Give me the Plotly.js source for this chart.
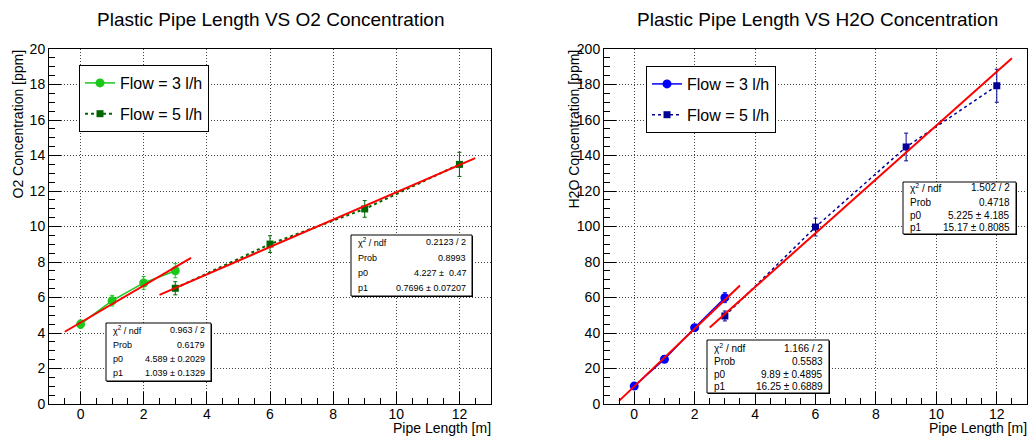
<!DOCTYPE html>
<html>
<head>
<meta charset="utf-8">
<script src="https://cdn.plot.ly/plotly-3.0.1.min.js"></script>
<style>html,body{margin:0;padding:0;background:#fff;}#chart{width:1030px;height:437px;}</style>
</head>
<body>
<div id="chart"></div>
<script>
// ---- data ----
const pipeLenFlow3 = [0, 1, 2, 3];
const pipeLenFlow5 = [3, 6, 9, 12];

const o2Flow3 = [4.5, 5.82, 6.82, 7.51];
const o2Flow3Err = [0.23, 0.3, 0.36, 0.4];
const o2Flow5 = [6.52, 9.01, 10.99, 13.5];
const o2Flow5Err = [0.37, 0.47, 0.47, 0.68];

const h2oFlow3 = [10.1, 25.2, 43, 59.9];
const h2oFlow3Err = [1.2, 1.5, 1.7, 2.8];
const h2oFlow5 = [49.6, 99.7, 144.8, 179.3];
const h2oFlow5Err = [2.8, 5, 7.8, 9.3];

// fit line end points (from the fit parameters in the stat boxes)
const fitXFlow3 = [-0.5, 3.5];
const fitXFlow5 = [2.5, 12.5];
const o2FitFlow3 = [4.07, 8.23];
const o2FitFlow5 = [6.15, 13.85];
const h2oFitFlow3 = [1.77, 66.8];
const h2oFitFlow5 = [43.15, 194.8];

const legendNames = ['Flow = 3 l/h', 'Flow = 5 l/h'];
const statLabels = ['χ<sup>2</sup> / ndf', 'Prob', 'p0', 'p1'];
const o2StatsFlow3 = ['0.963 / 2', '0.6179', '4.589 ± 0.2029', '1.039 ± 0.1329'];
const o2StatsFlow5 = ['0.2123 / 2', '0.8993', '4.227 ±\u00a0 0.47', '0.7696 ± 0.07207'];
const h2oStatsFlow3 = ['1.166 / 2', '0.5583', '9.89 ± 0.4895', '16.25 ± 0.6889'];
const h2oStatsFlow5 = ['1.502 / 2', '0.4718', '5.225 ± 4.185', '15.17 ± 0.8085'];

// ---- styling ----
const W = 1030, H = 437;
const px = v => v / W;
const py = v => 1 - v / H;
const FONT = 'Liberation Sans, Arial, Helvetica, sans-serif';

const cG3 = '#19c819', cG5 = '#006600', cB3 = '#0000ff', cB5 = '#000099', cFit = '#ff0000';

function dataTrace(x, y, err, color, symbol, dash, lw, name, xa, ya, leg, grp) {
  return {
    x: x, y: y, type: 'scatter', mode: 'lines+markers', name: name,
    xaxis: xa, yaxis: ya, legend: leg, legendgroup: grp,
    line: {color: color, width: lw, dash: dash},
    marker: {color: color, symbol: symbol, size: symbol === 'circle' ? 9 : 7},
    error_y: {type: 'data', array: err, color: color, thickness: 1, width: 2}
  };
}
function fitTrace(x, y, xa, ya) {
  return {x: x, y: y, type: 'scatter', mode: 'lines', xaxis: xa, yaxis: ya,
    line: {color: cFit, width: 2}, showlegend: false, hoverinfo: 'skip'};
}

const traces = [
  dataTrace(pipeLenFlow3, o2Flow3, o2Flow3Err, cG3, 'circle', 'solid', 1.5, legendNames[0], 'x', 'y', 'legend', 'a'),
  dataTrace(pipeLenFlow5, o2Flow5, o2Flow5Err, cG5, 'square', 'dot', 2, legendNames[1], 'x', 'y', 'legend', 'b'),
  dataTrace(pipeLenFlow3, h2oFlow3, h2oFlow3Err, cB3, 'circle', 'solid', 1.5, legendNames[0], 'x2', 'y2', 'legend2', 'c'),
  dataTrace(pipeLenFlow5, h2oFlow5, h2oFlow5Err, cB5, 'square', 'dot', 1.5, legendNames[1], 'x2', 'y2', 'legend2', 'd'),
  fitTrace(fitXFlow3, o2FitFlow3, 'x', 'y'),
  fitTrace(fitXFlow5, o2FitFlow5, 'x', 'y'),
  fitTrace(fitXFlow3, h2oFitFlow3, 'x2', 'y2'),
  fitTrace(fitXFlow5, h2oFitFlow5, 'x2', 'y2')
];

function xAxis(domain) {
  return {
    domain: domain, range: [-1, 13], tick0: 0, dtick: 2, showgrid: true,
    gridcolor: '#444', griddash: '1px,2px', gridwidth: 1, zeroline: false,
    showline: true, linecolor: '#000', linewidth: 1, mirror: true,
    ticks: 'inside', ticklen: 12, tickcolor: '#000', tickwidth: 1, ticklabelstandoff: -3,
    minor: {dtick: 0.5, ticks: 'inside', ticklen: 6, tickcolor: '#000', showgrid: false},
    tickfont: {size: 14, color: '#000', family: FONT}, fixedrange: true
  };
}
function yAxis(domain, range, dtick, mdtick, anchor) {
  return {
    domain: domain, range: range, tick0: 0, dtick: dtick, anchor: anchor, showgrid: true,
    gridcolor: '#444', griddash: '1px,2px', gridwidth: 1, zeroline: false,
    showline: true, linecolor: '#000', linewidth: 1, mirror: true,
    ticks: 'inside', ticklen: 12, tickcolor: '#000', tickwidth: 1,
    minor: {dtick: mdtick, ticks: 'inside', ticklen: 6, tickcolor: '#000', showgrid: false},
    tickfont: {size: 14, color: '#000', family: FONT}, fixedrange: true
  };
}

const yDom = [py(404), py(49)];
const layout = {
  width: W, height: H, margin: {l: 0, r: 0, t: 0, b: 0},
  paper_bgcolor: '#fff', plot_bgcolor: '#fff',
  font: {family: FONT, color: '#000'},
  xaxis: Object.assign(xAxis([px(49), px(491)]), {anchor: 'y'}),
  yaxis: yAxis(yDom, [0, 20], 2, 0.5, 'x'),
  xaxis2: Object.assign(xAxis([px(604), px(1027)]), {anchor: 'y2'}),
  yaxis2: yAxis(yDom, [0, 200], 20, 5, 'x2'),
  legend: {x: px(79), y: py(65), xanchor: 'left', yanchor: 'top', bgcolor: '#fff',
    bordercolor: '#000', borderwidth: 1, font: {size: 16, family: FONT, color: '#000'},
    traceorder: 'grouped', tracegroupgap: 7, itemwidth: 30},
  legend2: {x: px(646), y: py(66), xanchor: 'left', yanchor: 'top', bgcolor: '#fff',
    bordercolor: '#000', borderwidth: 1, font: {size: 16, family: FONT, color: '#000'},
    traceorder: 'grouped', tracegroupgap: 7, itemwidth: 30},
  shapes: [], annotations: []
};

function ann(text, x, y, xa, ya, size, extra) {
  return Object.assign({text: text, x: x, y: y, xref: 'paper', yref: 'paper', xanchor: xa,
    yanchor: ya, showarrow: false, font: {size: size, family: FONT, color: '#000'}}, extra || {});
}

// titles
layout.annotations.push(ann('Plastic Pipe Length VS O2 Concentration', px(270), py(20), 'center', 'middle', 19));
layout.annotations.push(ann('Plastic Pipe Length VS H2O Concentration', px(817), py(20), 'center', 'middle', 19));
layout.annotations.push(ann('Pipe Length [m]', px(492), py(437), 'right', 'bottom', 14, {borderpad: 0}));
layout.annotations.push(ann('Pipe Length [m]', px(1028), py(437), 'right', 'bottom', 14, {borderpad: 0}));
layout.annotations.push(ann('O2 Concentration [ppm]', px(17), py(48), 'center', 'top', 14, {textangle: -90}));
layout.annotations.push(ann('H2O Concentration [ppm]', px(573), py(48), 'center', 'top', 14, {textangle: -90}));

// stat boxes
function statBox(x0, y0, x1, y1, rows, values, size) {
  layout.shapes.push({type: 'rect', xref: 'paper', yref: 'paper',
    x0: px(x0 + 1), x1: px(x1 + 1), y0: py(y1 + 1), y1: py(y0 + 1),
    fillcolor: '#000', line: {width: 0}});
  layout.shapes.push({type: 'rect', xref: 'paper', yref: 'paper',
    x0: px(x0), x1: px(x1), y0: py(y1), y1: py(y0),
    fillcolor: '#fff', line: {color: '#000', width: 1}});
  for (let i = 0; i < 4; i++) {
    layout.annotations.push(ann(statLabels[i], px(x0 + 5), py(rows[i]), 'left', 'middle', size));
    layout.annotations.push(ann(values[i], px(x1 - 4), py(rows[i]), 'right', 'middle', size));
  }
}
statBox(106, 323, 211, 381, [330, 345, 359, 373], o2StatsFlow3, 9);
statBox(351, 235, 472, 296, [242, 258, 273, 288], o2StatsFlow5, 9);
statBox(707, 340, 829, 393, [348, 361, 374, 386], h2oStatsFlow3, 10);
statBox(903, 182, 1016, 234, [188, 202, 215, 227], h2oStatsFlow5, 10);

Plotly.newPlot('chart', traces, layout, {staticPlot: true, displayModeBar: false});
</script>
</body>
</html>
